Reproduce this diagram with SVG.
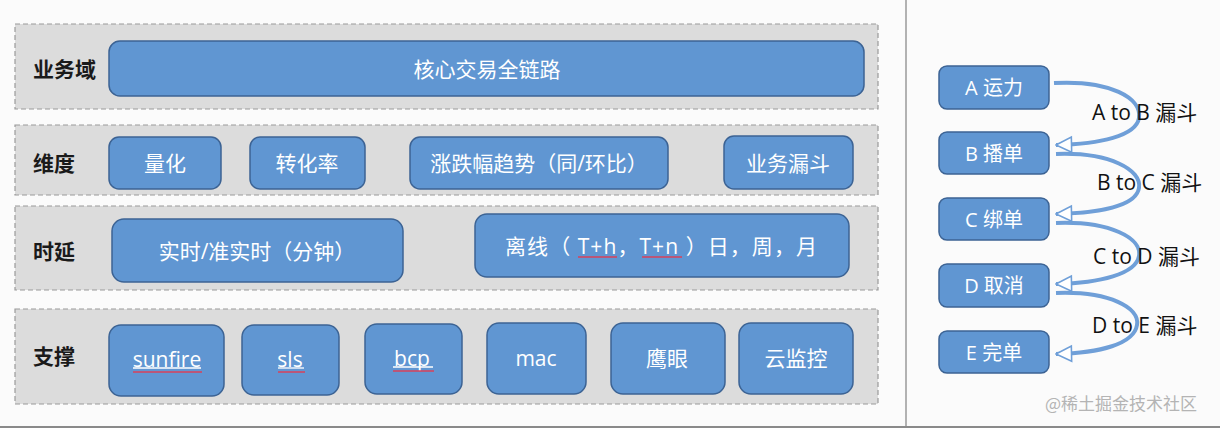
<svg xmlns="http://www.w3.org/2000/svg" width="1220" height="428" viewBox="0 0 1220 428">
<defs>
<style>
.layer{fill:#dcdcdc;stroke:#9a9a9a;stroke-width:1.2;stroke-dasharray:5,3}
.box{fill:#6096d2;stroke:#3c6394;stroke-width:1.5}
.bt{font-family:"Open Sans","Noto Sans CJK SC",sans-serif;font-size:21px;fill:#ffffff;text-anchor:middle;dominant-baseline:central}
.st{font-size:20px}
.lab{font-family:"Noto Sans CJK SC",sans-serif;font-size:21px;font-weight:bold;fill:#1a1a1a;dominant-baseline:central}
.fl{font-family:"Open Sans","Noto Sans CJK SC",sans-serif;font-size:21px;fill:#111111}
.arc{fill:none;stroke:#6f9fd8;stroke-width:4}
.red{stroke:#d9405a;stroke-width:1.5}
.ul{stroke:#ffffff;stroke-width:1.3}
</style>
<marker id="hollow" markerWidth="4.6" markerHeight="4.6" refX="6.5" refY="3.5" orient="auto" markerUnits="strokeWidth" viewBox="0 0 7 7">
<polygon points="0.6,0.6 6.5,3.5 0.6,6.4" fill="#ffffff" stroke="#6f9fd8" stroke-width="0.6"/>
</marker>
</defs>
<rect width="1220" height="428" fill="#fbfbfb"/>
<line x1="906" y1="0" x2="906" y2="428" stroke="#9a9a9a" stroke-width="1.5"/>
<line x1="0" y1="427" x2="1220" y2="427" stroke="#8a8a8a" stroke-width="2"/>

<g id="layer-domain">
<rect class="layer" x="15" y="24" width="863" height="85"/>
<text class="lab" x="33" y="68">业务域</text>
</g>
<g id="layer-dimension">
<rect class="layer" x="15" y="125" width="863" height="70"/>
<text class="lab" x="33" y="162">维度</text>
</g>
<g id="layer-latency">
<rect class="layer" x="15" y="206" width="863" height="84"/>
<text class="lab" x="33" y="250">时延</text>
</g>
<g id="layer-support">
<rect class="layer" x="15" y="309" width="863" height="95"/>
<text class="lab" x="33" y="355">支撑</text>
</g>

<g id="n-core"><rect class="box" x="109" y="41" width="755" height="55" rx="11"/><text class="bt" x="487" y="69">核心交易全链路</text></g>
<g id="n-quant"><rect class="box" x="109" y="137" width="112" height="52" rx="10"/><text class="bt" x="165" y="163">量化</text></g>
<g id="n-conv"><rect class="box" x="250" y="137" width="115" height="52" rx="10"/><text class="bt" x="307" y="163">转化率</text></g>
<g id="n-trend"><rect class="box" x="410" y="137" width="258" height="52" rx="10"/><text class="bt" x="539" y="163">涨跌幅趋势（同/环比）</text></g>
<g id="n-funnel"><rect class="box" x="724" y="136" width="129" height="53" rx="10"/><text class="bt" x="788" y="163">业务漏斗</text></g>

<g id="n-realtime"><rect class="box" x="112" y="219" width="291" height="63" rx="12"/><text class="bt" x="257" y="251">实时/准实时（分钟）</text></g>
<g id="n-offline"><rect class="box" x="475" y="214" width="374" height="63" rx="12"/><text class="bt" x="661" y="246" textLength="312" lengthAdjust="spacing">离线（ T+h，T+n ）日，周，月</text>
<line class="red" x1="578" y1="257" x2="617" y2="257"/><line class="red" x1="642" y1="257" x2="682" y2="257"/></g>

<g id="n-sunfire"><rect class="box" x="109" y="325" width="115" height="71" rx="12"/><text class="bt" x="167" y="359">sunfire</text>
<line class="ul" x1="133" y1="368" x2="201" y2="368"/><line class="red" x1="133" y1="372" x2="202" y2="372"/></g>
<g id="n-sls"><rect class="box" x="242" y="325" width="97" height="70" rx="12"/><text class="bt" x="290" y="359">sls</text>
<line class="ul" x1="278" y1="368" x2="304" y2="368"/><line class="red" x1="278" y1="372" x2="305" y2="372"/></g>
<g id="n-bcp"><rect class="box" x="365" y="324" width="97" height="70" rx="12"/><text class="bt" x="412" y="358">bcp</text>
<line class="ul" x1="393" y1="367" x2="433" y2="367"/><line class="red" x1="393" y1="371" x2="434" y2="371"/></g>
<g id="n-mac"><rect class="box" x="487" y="323" width="99" height="71" rx="12"/><text class="bt" x="536" y="358">mac</text></g>
<g id="n-eagle"><rect class="box" x="611" y="323" width="114" height="71" rx="12"/><text class="bt" x="667" y="358">鹰眼</text></g>
<g id="n-cloud"><rect class="box" x="739" y="323" width="114" height="71" rx="12"/><text class="bt" x="796" y="358">云监控</text></g>

<g id="s-a"><rect class="box" x="939" y="66" width="110" height="43" rx="8"/><text class="bt st" x="994" y="87">A 运力</text></g>
<g id="s-b"><rect class="box" x="939" y="132" width="110" height="42" rx="8"/><text class="bt st" x="994" y="153">B 播单</text></g>
<g id="s-c"><rect class="box" x="939" y="198" width="110" height="42" rx="8"/><text class="bt st" x="994" y="219">C 绑单</text></g>
<g id="s-d"><rect class="box" x="939" y="264" width="110" height="43" rx="8"/><text class="bt st" x="994" y="285">D 取消</text></g>
<g id="s-e"><rect class="box" x="939" y="331" width="110" height="42" rx="8"/><text class="bt st" x="994" y="352">E 完单</text></g>

<g id="connectors">
<path class="arc" d="M1054,83 C1110,80 1142,98 1139,118 C1136,136 1100,144 1056,145" marker-end="url(#hollow)"/>
<path class="arc" d="M1056,154 C1110,152 1142,170 1139,188 C1136,206 1100,213 1056,214" marker-end="url(#hollow)"/>
<path class="arc" d="M1056,223 C1110,221 1142,238 1139,256 C1136,274 1100,283 1056,284" marker-end="url(#hollow)"/>
<path class="arc" d="M1056,293 C1110,291 1140,308 1137,325 C1134,344 1100,353 1056,354" marker-end="url(#hollow)"/>
</g>

<g id="labels">
<text class="fl" x="1092" y="120">A to B 漏斗</text>
<text class="fl" x="1097" y="190">B to C 漏斗</text>
<text class="fl" x="1093" y="264">C to D 漏斗</text>
<text class="fl" x="1092" y="333">D to E 漏斗</text>
</g>
<text x="1045" y="410" style="font-family:'Noto Sans CJK SC',sans-serif;font-size:17px;fill:#b4b4b4">@稀土掘金技术社区</text>
</svg>
